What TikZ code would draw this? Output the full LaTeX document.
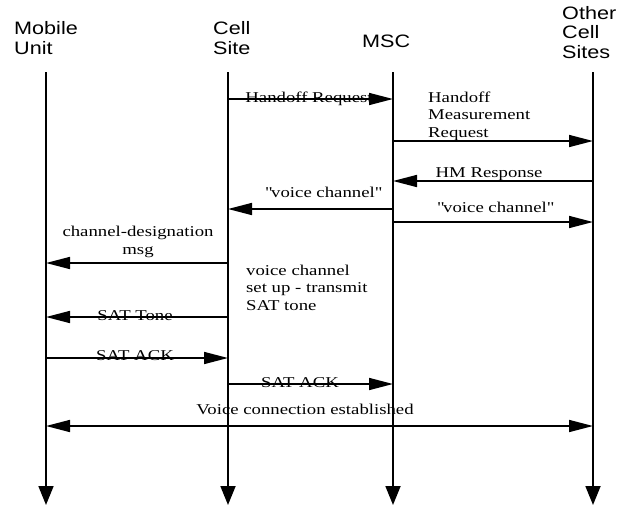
\documentclass[tikz,border=0pt]{standalone}
\usepackage{fontspec}
\setmainfont{Liberation Serif}[FakeStretch=1.25]
\newfontfamily\headfont{Liberation Sans}[FakeStretch=1.2]
\usepackage{tikz}
\usetikzlibrary{arrows.meta,calc}

\begin{document}
\begin{tikzpicture}[x=1pt, y=1pt,
  head/.style={font=\headfont\fontsize{18}{19.5}\selectfont, align=left, anchor=base west, inner sep=0pt},
  lbl/.style={font=\fontsize{15}{17.5}\selectfont, inner sep=0pt, anchor=base},
  lifeline/.style={line width=1.8pt, -{Triangle[length=19pt,width=15pt]}},
  msg/.style={line width=1.6pt, -{Triangle[length=24pt,width=12pt]}},
  ]
  \useasboundingbox (0,0) rectangle (629,-506);
  % Column heads (base = last line)
  \node[head] (mu)  at (14,-54)  {Mobile\\Unit};
  \node[head] (cs)  at (213,-54) {Cell\\Site};
  \node[head] (msc) at (362,-47) {MSC};
  \node[head] (oc)  at (562,-58) {Other\\Cell\\Sites};
  % Life lines
  \foreach \n/\x in {mu/46, cs/228, msc/393, oc/593} {
    \coordinate (top-\n) at (\x,-72);
    \coordinate (end-\n) at (\x,-505);
    \draw[lifeline] (top-\n) -- (end-\n);
  }
  % Message rows
  \foreach \r/\y in {hreq/99, hmreq/141, hmresp/181, vcin/209, vcout/222,
                     chd/263, sat/317, ackcs/358, ackmsc/384, conn/426}
    \coordinate (\r) at (0,-\y);
  % Messages
  \draw[msg] (top-cs |- hreq) -- (top-msc |- hreq);
  \node[lbl] (hreq lbl) at (309,-102) {Handoff Request};
  \draw[msg] (top-msc |- hmreq) -- (top-oc |- hmreq);
  \node[lbl, anchor=base west, align=left] (hmreq lbl) at (428,-137)
    {Handoff\\Measurement\\Request};
  \draw[msg] (top-oc |- hmresp) -- (top-msc |- hmresp);
  \node[lbl] (hmresp lbl) at (489,-177) {HM Response};
  \draw[msg] (top-msc |- vcin) -- (top-cs |- vcin);
  \node[lbl] (vcin lbl) at (323,-197) {\textquotedbl voice channel\textquotedbl};
  \draw[msg] (top-msc |- vcout) -- (top-oc |- vcout);
  \node[lbl] (vcout lbl) at (495,-212) {\textquotedbl voice channel\textquotedbl};
  \draw[msg] (top-cs |- chd) -- (top-mu |- chd);
  \node[lbl, align=center] (chd lbl) at (138,-254) {channel-designation\\msg};
  \node[lbl, anchor=base west, align=left] (setup) at (246,-310)
    {voice channel\\set up - transmit\\SAT tone};
  \draw[msg] (top-cs |- sat) -- (top-mu |- sat);
  \node[lbl] (sat lbl) at (135,-320) {SAT Tone};
  \draw[msg] (top-mu |- ackcs) -- (top-cs |- ackcs);
  \node[lbl] (ackcs lbl) at (135,-360) {SAT ACK};
  \draw[msg] (top-cs |- ackmsc) -- (top-msc |- ackmsc);
  \node[lbl] (ackmsc lbl) at (300,-387) {SAT ACK};
  \draw[msg, {Triangle[length=24pt,width=12pt]}-{Triangle[length=24pt,width=12pt]}]
    (top-mu |- conn) -- (top-oc |- conn);
  \node[lbl] (conn lbl) at (305,-414) {Voice connection established};
\end{tikzpicture}
\end{document}
